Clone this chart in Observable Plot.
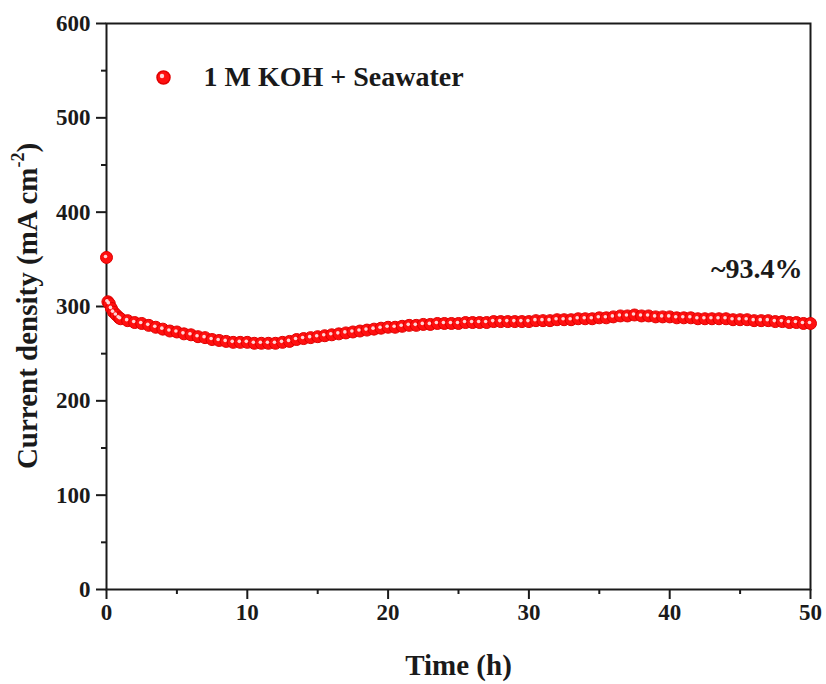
<!DOCTYPE html>
<html>
<head>
<meta charset="utf-8">
<script src="https://cdn.jsdelivr.net/npm/d3@7"></script>
<script src="https://cdn.jsdelivr.net/npm/@observablehq/plot@0.6"></script>
<style>
  html, body { margin: 0; padding: 0; background: #fff; }
  #chart { width: 826px; height: 684px; }
</style>
</head>
<body>
<div id="chart"></div>
<script>
// ---- data ----
const times = [
  0, 0.1, 0.2, 0.35, 0.5, 0.7, 0.9, 1.0,
  1.5, 2.0, 2.5, 3.0, 3.5, 4.0, 4.5, 5.0, 5.5, 6.0, 6.5, 7.0, 7.5, 8.0, 8.5, 9.0, 9.5,
  10.0, 10.5, 11.0, 11.5, 12.0, 12.5, 13.0, 13.5, 14.0, 14.5, 15.0, 15.5, 16.0, 16.5, 17.0,
  17.5, 18.0, 18.5, 19.0, 19.5, 20.0, 20.5, 21.0, 21.5, 22.0, 22.5, 23.0, 23.5, 24.0, 24.5,
  25.0, 25.5, 26.0, 26.5, 27.0, 27.5, 28.0, 28.5, 29.0, 29.5, 30.0, 30.5, 31.0, 31.5, 32.0,
  32.5, 33.0, 33.5, 34.0, 34.5, 35.0, 35.5, 36.0, 36.5, 37.0, 37.5, 38.0, 38.5, 39.0, 39.5,
  40.0, 40.5, 41.0, 41.5, 42.0, 42.5, 43.0, 43.5, 44.0, 44.5, 45.0, 45.5, 46.0, 46.5, 47.0,
  47.5, 48.0, 48.5, 49.0, 49.5, 50.0
];
const currentDensity = [
  352, 305, 303, 298, 294, 291, 288, 287,
  285, 283, 282, 280, 278, 276, 274, 273, 271, 270, 268, 267, 265, 264, 263, 262, 262,
  262, 261, 261, 261, 261, 262, 263, 265, 266, 267, 268, 269, 270, 271, 272,
  273, 274, 275, 276, 277, 278, 278, 279, 280, 280, 281, 281, 282, 282, 282,
  282, 283, 283, 283, 283, 284, 284, 284, 284, 284, 284, 285, 285, 285, 286,
  286, 286, 287, 287, 287, 288, 288, 289, 290, 290, 291, 290, 290, 289, 289,
  289, 288, 288, 288, 287, 287, 287, 287, 287, 286, 286, 286, 285, 285, 285,
  284, 284, 283, 283, 282, 282
];
const xTicks = [0, 10, 20, 30, 40, 50];
const xMinorTicks = [5, 15, 25, 35, 45];
const yTicks = [0, 100, 200, 300, 400, 500, 600];
const yMinorTicks = [50, 150, 250, 350, 450, 550];
const seriesName = "1 M KOH + Seawater";
const annotationText = "~93.4%";
const annotationAt = [{ t: 50, j: 340 }];
const xLabel = "Time (h)";

const data = times.map((t, i) => ({ t, j: currentDensity[i] }));

const font = "'Liberation Serif', 'Times New Roman', serif";
const ink = "#1a1a1a";

const plot = Plot.plot({
  width: 826,
  height: 684,
  marginTop: 23,
  marginRight: 16,
  marginBottom: 95,
  marginLeft: 106,
  style: { fontFamily: font, fontWeight: "bold", background: "#fff", color: ink },
  x: { domain: [0, 50] },
  y: { domain: [0, 600] },
  marks: [
    Plot.axisX(xMinorTicks, { tickSize: 5, strokeWidth: 2, tickFormat: () => "", label: null }),
    Plot.axisX(xTicks, { tickSize: 10, tickPadding: 4, strokeWidth: 2, fontSize: 23, label: null }),
    Plot.axisY(yMinorTicks, { tickSize: 5, strokeWidth: 2, tickFormat: () => "", label: null }),
    Plot.axisY(yTicks, { tickSize: 10, tickPadding: 6, strokeWidth: 2, fontSize: 23, label: null }),
    Plot.frame({ stroke: ink, strokeWidth: 2 }),
    Plot.dot(data, { x: "t", y: "j", r: 6, fill: "#ff1010", stroke: "#e00000", strokeWidth: 1 }),
    Plot.dot(data, { x: "t", y: "j", r: 1.8, dx: -1, dy: -1, fill: "#ffd6d6" }),
    Plot.text(annotationAt, { x: "t", y: "j", text: () => annotationText, textAnchor: "end", dx: -8, fontSize: 28, fill: ink }),
    // legend
    Plot.dot([seriesName], { frameAnchor: "top-left", dx: 57, dy: 54, r: 6.5, fill: "#ff1010", stroke: "#e00000" }),
    Plot.dot([seriesName], { frameAnchor: "top-left", dx: 55.5, dy: 52.5, r: 2.2, fill: "#ffd6d6" }),
    Plot.text([seriesName], { frameAnchor: "top-left", dx: 97, dy: 54, lineAnchor: "middle", text: d => d, textAnchor: "start", fontSize: 28, fill: ink }),
    // x axis title
    Plot.text([xLabel], { frameAnchor: "bottom", dy: 76, lineAnchor: "middle", text: d => d, fontSize: 29, fill: ink })
  ]
});

// y-axis title with superscript
const svg = d3.select(plot);
const t = svg.append("text")
  .attr("transform", `translate(30, ${(23 + 589) / 2}) rotate(-90)`)
  .attr("text-anchor", "middle")
  .attr("dominant-baseline", "middle")
  .attr("font-family", font)
  .attr("font-weight", "bold")
  .attr("font-size", 29)
  .attr("fill", ink);
t.append("tspan").text("Current density (mA cm");
t.append("tspan").attr("font-size", 18).attr("baseline-shift", "super").text("-2");
t.append("tspan").text(")");

document.getElementById("chart").appendChild(plot);
</script>
</body>
</html>
